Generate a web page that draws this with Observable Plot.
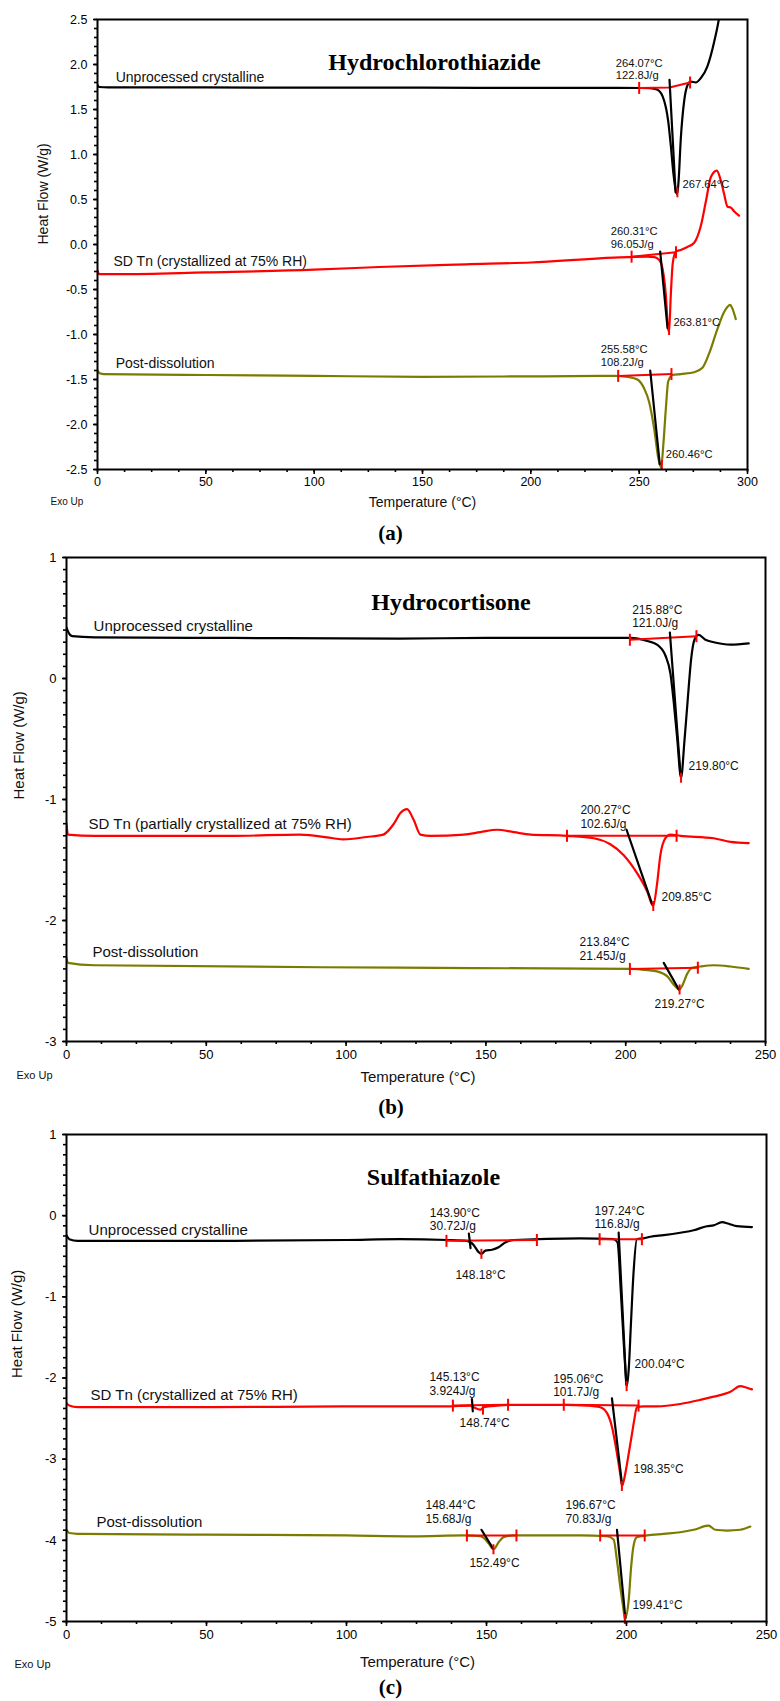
<!DOCTYPE html>
<html><head><meta charset="utf-8">
<script src="https://cdn.jsdelivr.net/npm/d3@7"></script>
<script src="https://cdn.jsdelivr.net/npm/@observablehq/plot@0.6"></script>
<style>
body{margin:0;background:#fff;}
#root{position:relative;width:780px;height:1701px;background:#fff;}
#root svg{position:absolute;left:0;}
</style></head><body><div id="root"></div>
<script>
// ---------- (a) Hydrochlorothiazide : [temperature °C, heat flow W/g] ----------
const hctzUnprocessed = [[0,1.77],[0.8,1.75],[5,1.745],[50,1.745],[100,1.742],[150,1.742],[200,1.74],[240,1.74],[255,1.738],[258.5,1.72],[261.5,1.6],[263.4,1.37],[264.6,1.1],[265.8,0.79],[266.9,0.6],[267.6,0.56],[268.2,0.71],[269.2,1.17],[270.8,1.6],[272.3,1.77],[273.8,1.81],[276.1,1.8],[278.5,1.85],[281.5,1.98],[284.6,2.25],[286.9,2.52],[288,2.7]];
const hctzSD = [[0,-0.29],[0.8,-0.33],[10,-0.33],[50,-0.31],[100,-0.28],[130,-0.25],[170,-0.22],[200,-0.2],[238.5,-0.145],[253.8,-0.135],[257,-0.14],[259.2,-0.17],[260.8,-0.27],[262.3,-0.56],[263.3,-0.92],[263.8,-0.97],[264.6,-0.56],[265.5,-0.21],[266.9,-0.08],[269.2,-0.06],[272,-0.03],[275.4,0.02],[278.5,0.21],[280.8,0.48],[283.1,0.75],[285.8,0.82],[287.7,0.71],[289.2,0.56],[290.8,0.42],[292.3,0.41],[293.8,0.37],[296.1,0.32]];
const hctzPost = [[0,-1.4],[1,-1.43],[3,-1.44],[50,-1.45],[100,-1.46],[150,-1.47],[200,-1.465],[238.5,-1.46],[244.6,-1.47],[249.2,-1.5],[252.3,-1.6],[254.6,-1.75],[257,-2.06],[258.8,-2.37],[260.1,-2.48],[261.2,-2.21],[262.3,-1.83],[263.4,-1.52],[265.4,-1.45],[269.2,-1.44],[275.4,-1.42],[279.2,-1.37],[282.3,-1.21],[286.1,-0.94],[289.2,-0.75],[292,-0.67],[293,-0.71],[294.6,-0.83]];
const hctzBaselines = [[[250,1.74],[264,1.745],[273.5,1.8]], [[246.5,-0.135],[267,-0.085]], [[240.3,-1.46],[264.9,-1.44]]];
const hctzOnsets = [[[264.0,1.83],[266.8,0.58]], [[259.7,-0.08],[263.1,-0.93]], [[255.1,-1.4],[259.5,-2.44]]];
const hctzPeaks = [[267.64,0.58],[263.81,-0.95],[260.46,-2.45]];
const hctzNotes = [[239.2,2.008,"264.07°C\n122.8J/g"],[270,0.656,"267.64°C"],[236.9,0.133,"260.31°C\n96.05J/g"],[265.8,-0.873,"263.81°C"],[232.3,-1.178,"255.58°C\n108.2J/g"],[262.3,-2.339,"260.46°C"]];
const hctzCurveLabels = [[8.4,1.858,"Unprocessed crystalline"],[7.4,-0.192,"SD Tn (crystallized at 75% RH)"],[8.4,-1.327,"Post-dissolution"]];

// ---------- (b) Hydrocortisone ----------
const hcUnprocessed = [[0,0.42],[0.5,0.39],[2,0.35],[10,0.34],[60,0.335],[119,0.33],[150,0.335],[201.7,0.335],[207.7,0.31],[211.2,0.28],[214.2,0.19],[216,0.04],[217.2,-0.2],[218.4,-0.49],[219.8,-0.82],[221,-0.52],[222.2,-0.17],[223.4,0.16],[224.6,0.32],[226.1,0.36],[228.5,0.32],[231.5,0.3],[237.5,0.28],[244,0.29]];
const hcSD = [[0,-1.2],[0.5,-1.29],[10,-1.3],[60,-1.3],[83.5,-1.29],[95.4,-1.32],[99,-1.33],[107.3,-1.31],[113.3,-1.29],[117.1,-1.2],[119.5,-1.11],[121.8,-1.08],[124.2,-1.17],[126.6,-1.29],[130.2,-1.3],[142.1,-1.29],[148,-1.27],[154,-1.25],[160,-1.27],[166,-1.29],[179,-1.3],[188.6,-1.32],[194.5,-1.37],[199.3,-1.46],[204.1,-1.61],[207.7,-1.76],[209.8,-1.88],[211.2,-1.7],[212.4,-1.46],[214.2,-1.32],[216,-1.29],[219.6,-1.3],[231.5,-1.32],[237.5,-1.35],[244,-1.36]];
const hcPost = [[0,-2.31],[0.5,-2.35],[10,-2.37],[119,-2.39],[201.7,-2.4],[207.7,-2.41],[211.2,-2.42],[214.8,-2.46],[217.2,-2.53],[219.2,-2.57],[220.2,-2.54],[222,-2.44],[223.8,-2.39],[226.7,-2.38],[231.5,-2.37],[237.5,-2.38],[244,-2.4]];
const hcBaselines = [[[201.5,0.32],[225.3,0.35]], [[179,-1.3],[218.2,-1.3]], [[201.5,-2.4],[225.8,-2.39]]];
const hcOnsets = [[[215.8,0.38],[219.6,-0.79]], [[200.3,-1.25],[209.4,-1.86]], [[213.6,-2.35],[219,-2.57]]];
const hcPeaks = [[219.8,-0.82],[209.85,-1.88],[219.27,-2.57]];
const hcNotes = [[202.3,0.562,"215.88°C\n121.0J/g"],[222.5,-0.732,"219.80°C"],[183.8,-1.096,"200.27°C\n102.6J/g"],[212.8,-1.81,"209.85°C"],[183.5,-2.188,"213.84°C\n21.45J/g"],[210.3,-2.7,"219.27°C"]];
const hcCurveLabels = [[9.7,0.433,"Unprocessed crystalline"],[7.9,-1.207,"SD Tn (partially crystallized at 75% RH)"],[9.3,-2.264,"Post-dissolution"]];

// ---------- (c) Sulfathiazole ----------
const stzUnprocessed = [[0,-0.24],[1,-0.29],[4,-0.31],[50,-0.31],[100,-0.3],[119,-0.29],[136,-0.3],[143,-0.31],[145.4,-0.36],[147.2,-0.45],[148.2,-0.47],[149.6,-0.43],[152,-0.42],[154.3,-0.39],[156.7,-0.33],[159.7,-0.3],[183.5,-0.28],[195.4,-0.29],[196.8,-0.33],[198,-0.95],[199,-1.56],[199.8,-1.99],[200.1,-2.1],[200.8,-1.89],[201.6,-1.32],[202.5,-0.71],[203.7,-0.29],[206.1,-0.28],[208.5,-0.26],[213.3,-0.24],[219.2,-0.21],[224,-0.18],[228.7,-0.13],[231.1,-0.12],[234.1,-0.08],[236.5,-0.1],[239.4,-0.13],[244.8,-0.14]];
const stzSD = [[0,-2.31],[1,-2.34],[4,-2.36],[50,-2.36],[100,-2.35],[135.9,-2.35],[144.2,-2.34],[145.4,-2.36],[147.8,-2.39],[149,-2.36],[153.8,-2.34],[159.7,-2.33],[177.6,-2.33],[185.9,-2.34],[190.6,-2.36],[193,-2.43],[194.8,-2.6],[196.6,-2.93],[197.8,-3.19],[198.4,-3.33],[199.6,-3.17],[200.8,-2.93],[201.9,-2.7],[202.8,-2.51],[203.7,-2.36],[206.1,-2.35],[210.9,-2.35],[219.2,-2.32],[226.3,-2.27],[231.1,-2.23],[237.1,-2.17],[240.6,-2.1],[243,-2.12],[244.8,-2.14]];
const stzPost = [[0,-3.87],[1,-3.91],[4,-3.92],[50,-3.93],[100,-3.94],[124,-3.95],[141.9,-3.94],[147.8,-3.95],[149,-3.97],[150.8,-4.04],[152.5,-4.11],[154.4,-4.02],[156.1,-3.96],[159.7,-3.94],[183.5,-3.94],[193,-3.95],[195.4,-3.99],[196.6,-4.25],[197.8,-4.58],[199,-4.87],[199.4,-4.97],[200.8,-4.73],[201.6,-4.35],[202.5,-4.07],[203.7,-3.96],[207.3,-3.94],[213.3,-3.92],[219.2,-3.9],[224,-3.87],[229.3,-3.82],[231.7,-3.87],[235.9,-3.88],[240.6,-3.87],[244.2,-3.83]];
const stzBaselines = [[[135.7,-0.31],[168,-0.3]], [[190.4,-0.29],[205.5,-0.29]], [[138,-2.34],[157.7,-2.33]], [[177.6,-2.33],[204.3,-2.34]], [[143,-3.94],[160.7,-3.94]], [[190.6,-3.94],[206.5,-3.94]]];
const stzOnsets = [[[143.7,-0.22],[144.3,-0.4]], [[197.2,-0.21],[199.9,-2.08]], [[144.8,-2.26],[145.1,-2.41]], [[194.8,-2.25],[198.4,-3.31]], [[148.2,-3.87],[152.3,-4.1]], [[196.6,-3.87],[199.6,-4.96]]];
const stzPeaks = [[148.18,-0.47],[200.04,-2.1],[148.74,-2.39],[198.35,-3.33],[152.49,-4.11],[199.41,-4.97]];
const stzNotes = [[129.75,0.022,"143.90°C\n30.72J/g"],[138.9,-0.743,"148.18°C"],[188.6,0.046,"197.24°C\n116.8J/g"],[202.9,-1.842,"200.04°C"],[129.6,-2.005,"145.13°C\n3.924J/g"],[140.4,-2.571,"148.74°C"],[173.8,-2.022,"195.06°C\n101.7J/g"],[202.5,-3.138,"198.35°C"],[128.2,-3.581,"148.44°C\n15.68J/g"],[143.9,-4.288,"152.49°C"],[178.2,-3.581,"196.67°C\n70.83J/g"],[202.1,-4.808,"199.41°C"]];
const stzCurveLabels = [[7.9,-0.181,"Unprocessed crystalline"],[8.6,-2.21,"SD Tn (crystallized at 75% RH)"],[10.7,-3.778,"Post-dissolution"]];

const seriesColors = ["#000000", "#ff0000", "#7b7b00"];

const vbar = {draw(ctx, size) { const h = Math.sqrt(size / Math.PI); ctx.moveTo(0, -h); ctx.lineTo(0, h); }};
const SANS = "'Liberation Sans', Arial, sans-serif";
const SERIF = "'Liberation Serif', 'Times New Roman', serif";

function panel(c) {
  const f = c.fonts;
  const marks = [];
  c.curves.forEach((d, i) => marks.push(Plot.line(d, {x: d => d[0], y: d => d[1], stroke: seriesColors[i], strokeWidth: 2.2, curve: "monotone-x", clip: true})));
  c.baselines.forEach(d => marks.push(Plot.line(d, {x: d => d[0], y: d => d[1], stroke: "#ff0000", strokeWidth: 2})));
  c.onsets.forEach(d => marks.push(Plot.line(d, {x: d => d[0], y: d => d[1], stroke: "#000000", strokeWidth: 2.2})));
  const ends = c.baselines.flatMap(d => [d[0], d[d.length - 1]]);
  marks.push(Plot.dot(ends, {x: d => d[0], y: d => d[1], symbol: vbar, r: 6, fill: "none", stroke: "#ff0000", strokeWidth: 2}));
  marks.push(Plot.dot(c.peaks, {x: d => d[0], y: d => d[1], symbol: vbar, r: 5, fill: "none", stroke: "#ff0000", strokeWidth: 2}));
  marks.push(Plot.text(c.notes, {x: d => d[0], y: d => d[1], text: d => d[2], textAnchor: "start", lineAnchor: "top", dy: -f.note / 2 - 0.5, fontSize: f.note, lineHeight: 1.12, fill: "#111"}));
  marks.push(Plot.text(c.labels, {x: d => d[0], y: d => d[1], text: d => d[2], textAnchor: "start", fontSize: f.label, fill: "#111"}));
  marks.push(Plot.frame({stroke: "#000", strokeWidth: 2}));
  marks.push(Plot.axisX({ticks: c.xMajor, tickSize: 5, tickPadding: 3, strokeWidth: 1.6, label: null, tickFormat: d => String(d), fontSize: f.tick}));
  marks.push(Plot.axisX({ticks: c.xMinor, tickSize: 3, strokeWidth: 1.6, label: null, tickFormat: () => ""}));
  marks.push(Plot.axisY({ticks: c.yMajor, tickSize: 4, tickPadding: 6, strokeWidth: 1.6, label: null, tickFormat: c.yFormat, fontSize: f.tick}));
  marks.push(Plot.axisY({ticks: c.yMinor, tickSize: 3, strokeWidth: 1.6, label: null, tickFormat: () => ""}));
  marks.push(Plot.text([c.title], {text: d => d, frameAnchor: "top", dx: c.titleDx, dy: c.titleDy, fontFamily: SERIF, fontWeight: "bold", fontSize: 24, lineAnchor: "middle", fill: "#000"}));
  marks.push(Plot.text(["Heat Flow (W/g)"], {text: d => d, frameAnchor: "left", rotate: -90, dx: c.yLabelDx, fontSize: f.axis, fill: "#111"}));
  marks.push(Plot.text(["Temperature (°C)"], {text: d => d, frameAnchor: "bottom", dx: c.tempDx, dy: c.tempDy, fontSize: f.axis, lineAnchor: "middle", fill: "#111"}));
  marks.push(Plot.text(["Exo Up"], {text: d => d, frameAnchor: "bottom-left", textAnchor: "start", dx: c.exoDx, dy: c.exoDy, fontSize: f.exo, lineAnchor: "middle", fill: "#111"}));
  marks.push(Plot.text([c.caption], {text: d => d, frameAnchor: "bottom", dx: c.capDx, dy: c.capDy, fontFamily: SERIF, fontWeight: "bold", fontSize: 21, lineAnchor: "middle", fill: "#000"}));
  const svg = Plot.plot({
    width: 780, height: c.height,
    marginTop: c.mt, marginBottom: c.mb, marginLeft: c.ml, marginRight: c.mr,
    x: {domain: c.xDomain}, y: {domain: c.yDomain},
    style: {fontFamily: SANS, fontSize: f.tick + "px", color: "#000", background: "transparent", overflow: "visible"},
    marks
  });
  svg.style.top = c.top + "px";
  document.getElementById("root").appendChild(svg);
}

const fmt1 = d => d.toFixed(1);
const fmt0 = d => String(d);
const fontsA = {tick: 12.5, label: 14, note: 11.2, axis: 14, exo: 10};
const fontsBC = {tick: 13, label: 15, note: 12, axis: 15, exo: 11};

panel({top: 0, height: 548, mt: 19, mb: 79, ml: 97, mr: 33, fonts: fontsA,
  xDomain: [0, 300], yDomain: [-2.5, 2.5],
  xMajor: d3.range(0, 301, 50), xMinor: d3.range(0, 301, 12.5),
  yMajor: d3.range(-2.5, 2.51, 0.5), yMinor: d3.range(-25, 26, 1).map(v => v / 10), yFormat: fmt1,
  curves: [hctzUnprocessed, hctzSD, hctzPost], baselines: hctzBaselines, onsets: hctzOnsets, peaks: hctzPeaks,
  notes: hctzNotes, labels: hctzCurveLabels,
  title: "Hydrochlorothiazide", titleDx: 12, titleDy: 43,
  yLabelDx: -54, tempDx: 0, tempDy: 33, exoDx: -47, exoDy: 32, caption: "(a)", capDx: -32, capDy: 64});

panel({top: 548, height: 572, mt: 9, mb: 79, ml: 66, mr: 15, fonts: fontsBC,
  xDomain: [0, 250], yDomain: [-3, 1],
  xMajor: d3.range(0, 251, 50), xMinor: d3.range(0, 251, 12.5),
  yMajor: [-3, -2, -1, 0, 1], yMinor: d3.range(-30, 11, 1).map(v => v / 10), yFormat: fmt0,
  curves: [hcUnprocessed, hcSD, hcPost], baselines: hcBaselines, onsets: hcOnsets, peaks: hcPeaks,
  notes: hcNotes, labels: hcCurveLabels,
  title: "Hydrocortisone", titleDx: 35, titleDy: 45,
  yLabelDx: -47, tempDx: 2, tempDy: 36, exoDx: -50, exoDy: 34, caption: "(b)", capDx: -25, capDy: 66});

panel({top: 1120, height: 581, mt: 14, mb: 80, ml: 66, mr: 14, fonts: fontsBC,
  xDomain: [0, 250], yDomain: [-5, 1],
  xMajor: d3.range(0, 251, 50), xMinor: d3.range(0, 251, 12.5),
  yMajor: [-5, -4, -3, -2, -1, 0, 1], yMinor: d3.range(-40, 9, 1).map(v => v / 8), yFormat: fmt0,
  curves: [stzUnprocessed, stzSD, stzPost], baselines: stzBaselines, onsets: stzOnsets, peaks: stzPeaks,
  notes: stzNotes, labels: stzCurveLabels,
  title: "Sulfathiazole", titleDx: 17, titleDy: 43,
  yLabelDx: -49, tempDx: 1, tempDy: 41, exoDx: -52, exoDy: 43, caption: "(c)", capDx: -26, capDy: 66});
</script></body></html>
